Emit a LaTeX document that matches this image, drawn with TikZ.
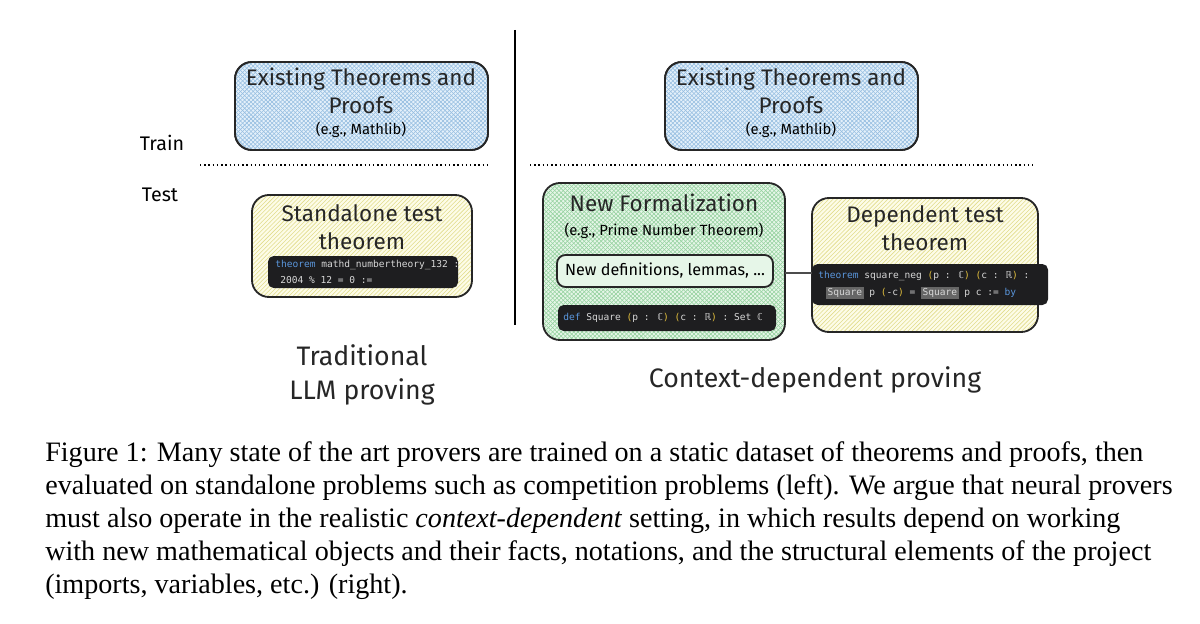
\documentclass[tikz,border=0pt]{standalone}
\usepackage{fontspec}
\setmainfont{Liberation Serif}
\newfontfamily\hand{Fira Sans}
\newfontfamily\codefont{DejaVu Sans Mono}
\usetikzlibrary{positioning, patterns}
\definecolor{hatchblue}{RGB}{150,190,225}
\definecolor{fillblue}{RGB}{228,240,250}
\definecolor{hatchgreen}{RGB}{150,210,160}
\definecolor{fillgreen}{RGB}{230,246,232}
\definecolor{hatchyellow}{RGB}{225,220,140}
\definecolor{fillyellow}{RGB}{253,252,232}
\definecolor{codebg}{RGB}{30,30,32}
\definecolor{kwblue}{RGB}{90,150,220}
\definecolor{parcol}{RGB}{225,190,60}
\definecolor{codefg}{RGB}{215,215,215}

\tikzset{
  sketchbox/.style={draw=black!85, line width=1.3pt, rounded corners=12pt},
  codebox/.style={fill=codebg, rounded corners=4pt, draw=none},
  handtext/.style={font=\hand\fontsize{16}{20}\selectfont, align=center, text=black!85},
  smalltext/.style={font=\hand\fontsize{10.5}{13}\selectfont, align=center},
  codetext/.style={font=\codefont\fontsize{6.8}{10}\selectfont, text=codefg, anchor=west, inner sep=0pt},
  captionline/.style={font=\fontsize{20}{24}\selectfont, anchor=base west, inner sep=0pt}
}
\newcommand{\kw}[1]{\textcolor{kwblue}{#1}}
\newcommand{\pr}[1]{\textcolor{parcol}{#1}}
\newcommand{\hl}[1]{{\setlength{\fboxsep}{1pt}\colorbox{black!60}{#1}}}

\begin{document}
\begin{tikzpicture}[x=0.025cm, y=-0.025cm]
  \useasboundingbox (0,0) rectangle (1200,623);
  % divider and train/test split
  \coordinate (top) at (515,30);
  \coordinate (bot) at (515,325);
  \draw[line width=1.4pt] (top) -- (bot);
  \coordinate (dl1) at (200,165);
  \coordinate (dl2) at (490,165);
  \coordinate (dr1) at (530,165);
  \coordinate (dr2) at (1035,165);
  \draw[line width=1pt, dotted] (dl1) -- (dl2);
  \draw[line width=1pt, dotted] (dr1) -- (dr2);
  \node[smalltext, font=\hand\fontsize{14}{16}\selectfont] (train) at (162,143) {Train};
  \node[smalltext, font=\hand\fontsize{14}{16}\selectfont] (test) at (160,195) {Test};

  % training data
  \foreach \xo/\nm in {0/trainL, 430/trainR} {
    \begin{scope}[xshift=\xo*0.025cm]
      \filldraw[sketchbox, fill=fillblue] (235,62) rectangle (488,150);
      \fill[pattern=north east lines, pattern color=hatchblue, rounded corners=12pt] (235,62) rectangle (488,150);
      \fill[pattern=north west lines, pattern color=hatchblue, rounded corners=12pt] (235,62) rectangle (488,150);
      \draw[sketchbox] (235,62) rectangle (488,150);
      \node[handtext] (\nm) at (361,91) {Existing Theorems and\\Proofs};
      \node[smalltext] at (361,130) {(e.g., Mathlib)};
    \end{scope}
  }

  % standalone test
  \fill[fillyellow, rounded corners=12pt] (252,195) rectangle (472,297);
  \fill[pattern=north east lines, pattern color=hatchyellow, rounded corners=12pt] (252,195) rectangle (472,297);
  \draw[sketchbox] (252,195) rectangle (472,297);
  \node[handtext] (standalone) at (362,227) {Standalone test\\theorem};
  \fill[codebox] (268,256) rectangle (458,288);
  \node[codetext] at (275,265) {\kw{theorem} mathd\_numbertheory\_132 :};
  \node[codetext] at (280,280) {2004 \% 12 = 0 :=};

  % new formalization
  \fill[fillgreen, rounded corners=14pt] (543,183) rectangle (785,340);
  \fill[pattern=north east lines, pattern color=hatchgreen, rounded corners=14pt] (543,183) rectangle (785,340);
  \fill[pattern=north west lines, pattern color=hatchgreen, rounded corners=14pt] (543,183) rectangle (785,340);
  \draw[sketchbox] (543,183) rectangle (785,340);
  \node[handtext] (newform) at (664,203) {New Formalization};
  \node[smalltext] at (664,231) {(e.g., Prime Number Theorem)};
  \filldraw[sketchbox, rounded corners=6pt, fill=fillgreen] (557,255) rectangle (773,287);
  \node[smalltext, font=\hand\fontsize{11.5}{13}\selectfont] at (665,271) {New definitions, lemmas, ...};
  \fill[codebox] (558,305) rectangle (776,331);
  \node[codetext] at (563,318) {\kw{def} Square \pr{(}p : ℂ\pr{)} \pr{(}c : ℝ\pr{)} : Set ℂ};

  % dependent test
  \fill[fillyellow, rounded corners=12pt] (812,198) rectangle (1038,332);
  \fill[pattern=north east lines, pattern color=hatchyellow, rounded corners=12pt] (812,198) rectangle (1038,332);
  \draw[sketchbox] (812,198) rectangle (1038,332);
  \node[handtext] (dependent) at (925,228) {Dependent test\\theorem};
  \fill[codebox] (812,264) rectangle (1048,305);
  \node[codetext] at (818,276) {\kw{theorem} square\_neg \pr{(}p : ℂ\pr{)} \pr{(}c : ℝ\pr{)} :};
  \node[codetext] at (826,293) {\hl{Square} p \pr{(}-c\pr{)} = \hl{Square} p c := \kw{by}};
  \coordinate (linkA) at (785,273);
  \coordinate (linkB) at (812,273);
  \draw[line width=0.8pt, black!70] (linkA) -- (linkB);

  % labels
  \node[handtext, font=\hand\fontsize{19}{24}\selectfont] (tradlabel) at (362,375) {Traditional\\LLM proving};
  \node[handtext, font=\hand\fontsize{19}{24}\selectfont] (ctxlabel) at (815,380) {Context-dependent proving};

  % caption
  \node[captionline] (cap1) at (45,461) {Figure 1: Many state of the art provers are trained on a static dataset of theorems and proofs, then};
  \node[captionline] (cap2) at (45,494) {evaluated on standalone problems such as competition problems (left). We argue that neural provers};
  \node[captionline] (cap3) at (45,527) {must also operate in the realistic \textit{context-dependent} setting, in which results depend on working};
  \node[captionline] (cap4) at (45,560) {with new mathematical objects and their facts, notations, and the structural elements of the project};
  \node[captionline] (cap5) at (45,593) {(imports, variables, etc.) (right).};
\end{tikzpicture}
\end{document}
